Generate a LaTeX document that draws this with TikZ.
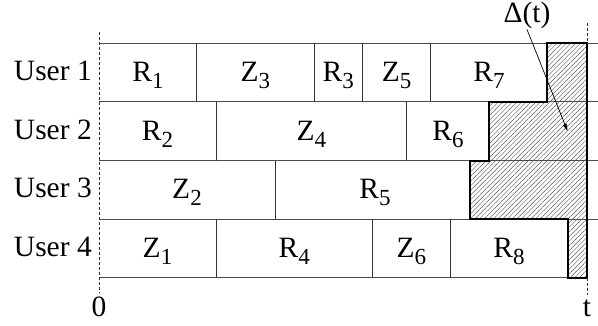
\documentclass[tikz,border=0pt]{standalone}
\usepackage{fontspec}
\setmainfont{Liberation Serif}
\usetikzlibrary{arrows.meta,patterns.meta}
\newcommand\sbs[1]{\raisebox{-7pt}{\fontsize{23}{23}\selectfont #1}}
\tikzset{
  grid/.style={line width=0.9pt, draw=black!70},
  divider/.style={line width=0.9pt, draw=black!80},
  outline/.style={line width=2pt, draw=black, line join=miter},
  hatch/.style={pattern={Lines[angle=45,distance=3.3pt,line width=0.45pt]}, pattern color=black!65},
  timeline/.style={line width=0.9pt, draw=black!80, dash pattern=on 3pt off 2pt},
  lbl/.style={inner sep=0pt, anchor=base, font=\fontsize{29.5}{31}\selectfont},
  user/.style={inner sep=0pt, anchor=base east, font=\fontsize{29.5}{31}\selectfont},
}
\begin{document}
\begin{tikzpicture}[x=1pt,y=-1pt]
\useasboundingbox (0,0) rectangle (598,325);
% row boundaries and time marks
\def\ya{43.3}\def\yb{101.7}\def\yc{160.5}\def\yd{219.3}\def\ye{277.7}
\def\xo{99}\def\xt{587}
% delay region
\fill[hatch] (547.3,\ya) -- (\xt,\ya) -- (\xt,\ye) -- (567.7,\ye) -- (567.7,\yd)
  -- (470,\yd) -- (470,\yc) -- (489.3,\yc) -- (489.3,\yb) -- (547.3,\yb) -- cycle;
% horizontal row lines
\draw[grid] (\xo,\ya) -- (598,\ya);
\draw[grid] (\xo,\yb) -- (598,\yb);
\draw[grid] (\xo,\yc) -- (598,\yc);
\draw[grid] (\xo,\yd) -- (598,\yd);
\draw[grid] (\xo,\ye) -- (\xt,\ye);
% cell dividers
\foreach \x/\ytop/\ybot in {196.7/\ya/\yb, 314/\ya/\yb, 362.7/\ya/\yb, 430.7/\ya/\yb,
    216/\yb/\yc, 406.7/\yb/\yc,
    275/\yc/\yd,
    216/\yd/\ye, 372.3/\yd/\ye, 450.3/\yd/\ye}
  \draw[divider] (\x,\ytop) -- (\x,\ybot);
% outline of the delay region
\draw[outline] (547.3,\ya) -- (\xt,\ya) -- (\xt,\ye) -- (567.7,\ye) -- (567.7,\yd)
  -- (470,\yd) -- (470,\yc) -- (489.3,\yc) -- (489.3,\yb) -- (547.3,\yb) -- cycle;
% time axis marks
\draw[timeline] (\xo,32) -- (\xo,293);
\draw[timeline] (\xt,23) -- (\xt,\ya);
\draw[timeline] (\xt,\ye) -- (\xt,295);
\node[lbl] (zero) at (\xo,316) {0};
\node[lbl] (tee) at (\xt,316) {t};
% user labels
\node[user] (u1) at (92,80) {User 1};
\node[user] (u2) at (92,139) {User 2};
\node[user] (u3) at (92,197.5) {User 3};
\node[user] (u4) at (92,256) {User 4};
% cell labels
\node[lbl] (r1) at (148,81) {R\sbs{1}};
\node[lbl] (z3) at (255.3,81) {Z\sbs{3}};
\node[lbl] (r3) at (338.3,81) {R\sbs{3}};
\node[lbl] (z5) at (396.7,81) {Z\sbs{5}};
\node[lbl] (r7) at (489,81) {R\sbs{7}};
\node[lbl] (r2) at (157.5,140) {R\sbs{2}};
\node[lbl] (z4) at (311.3,140) {Z\sbs{4}};
\node[lbl] (r6) at (448,140) {R\sbs{6}};
\node[lbl] (z2) at (187,198.5) {Z\sbs{2}};
\node[lbl] (r5) at (375,198.5) {R\sbs{5}};
\node[lbl] (z1) at (157.5,257) {Z\sbs{1}};
\node[lbl] (r4) at (294.2,257) {R\sbs{4}};
\node[lbl] (z6) at (411.3,257) {Z\sbs{6}};
\node[lbl] (r8) at (509,257) {R\sbs{8}};
% delay label with pointer
\node[lbl] (delta) at (527,22) {Δ(t)};
\coordinate (tip) at (567.5,131);
\draw[line width=0.7pt, -{Stealth[length=7pt,width=4pt,inset=0pt]}] (delta.south) ++(0,1) -- (tip);
\end{tikzpicture}
\end{document}
